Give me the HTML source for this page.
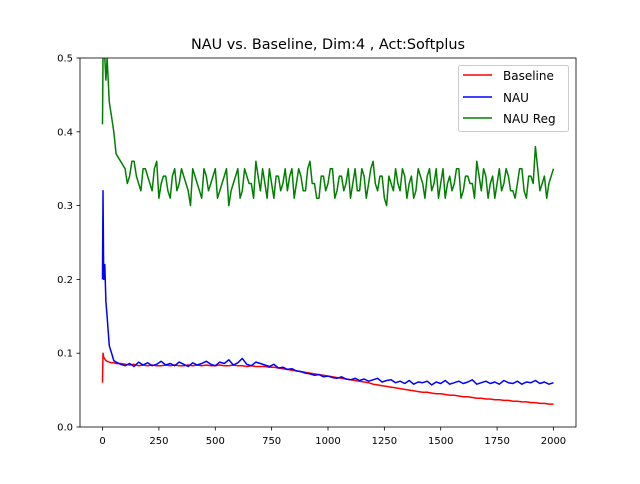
<!DOCTYPE html>
<html><head><meta charset="utf-8"><style>
body{margin:0;background:#fff;font-family:"DejaVu Sans","Liberation Sans",sans-serif}
svg text{font-family:"DejaVu Sans","Liberation Sans",sans-serif}
</style></head><body>
<svg id="chart" width="640" height="480" xmlns="http://www.w3.org/2000/svg">
<rect width="640" height="480" fill="#fff"/>
<text x="328" y="49" text-anchor="middle" font-size="14.4">NAU vs. Baseline, Dim:4 , Act:Softplus</text>
<g id="plot"></g>
<rect x="80" y="58" width="496" height="369" fill="none" stroke="#000" stroke-width="0.8"/>
<g id="axes"></g>
<g>
<rect x="458.5" y="65.5" width="110" height="66" rx="2" fill="#fff" fill-opacity="0.8" stroke="#ccc"/>
<line x1="463" y1="75" x2="492" y2="75" stroke="red" stroke-width="1.5"/>
<text x="503" y="80" font-size="12">Baseline</text>
<line x1="463" y1="97" x2="492" y2="97" stroke="blue" stroke-width="1.5"/>
<text x="503" y="102" font-size="12">NAU</text>
<line x1="463" y1="118" x2="492" y2="118" stroke="green" stroke-width="1.5"/>
<text x="503" y="123" font-size="12">NAU Reg</text>
</g>
</svg>
<script>
const earlySteps=[0,2,5,10,15,20,30,40,50,60,80];
const xTicks=[0,250,500,750,1000,1250,1500,1750,2000];
const yTicks=[0.0,0.1,0.2,0.3,0.4,0.5];
const baselineEarly=[0.06,0.10,0.095,0.092,0.09,0.089,0.088,0.087,0.087,0.086,0.086];
const nauEarly=[0.2,0.32,0.2,0.22,0.17,0.15,0.11,0.1,0.09,0.088,0.085];
const regEarly=[0.41,0.5,0.52,0.5,0.47,0.5,0.44,0.42,0.40,0.37,0.36];
const baselineLate=[0.085,0.084,0.085,0.083,0.084,0.083,0.084,0.083,0.083,0.084,0.083,0.084,0.083,0.083,0.084,0.083,0.084,0.083,0.084,0.083,0.083,0.084,0.083,0.083,0.084,0.083,0.083,0.082,0.083,0.082,0.082,
0.082,0.081,0.081,0.080,0.079,0.078,0.077,0.076,0.075,0.074,0.073,0.072,0.071,0.070,0.069,0.068,0.067,0.066,0.065,0.064,0.063,0.062,0.061,0.060,0.058,0.057,0.056,0.055,0.054,0.053,0.052,0.051,0.050,0.049,0.048,0.047,0.047,0.046,0.045,0.045,0.044,0.043,0.043,0.042,0.041,0.041,0.040,0.039,0.039,0.038,0.038,0.037,0.037,0.036,0.036,0.035,0.035,0.034,0.034,0.033,0.033,0.032,0.032,0.031,0.031];
const nauLate=[0.083,0.086,0.082,0.088,0.084,0.087,0.083,0.085,0.089,0.084,0.086,0.083,0.088,0.085,0.082,0.087,0.084,0.086,0.089,0.085,0.083,0.088,0.086,0.091,0.084,0.087,0.093,0.085,0.083,0.088,0.086,
0.084,0.082,0.085,0.080,0.081,0.078,0.079,0.076,0.075,0.073,0.072,0.07,0.071,0.068,0.069,0.067,0.066,0.068,0.065,0.064,0.066,0.063,0.065,0.062,0.064,0.066,0.061,0.063,0.064,0.060,
0.062,0.059,0.063,0.058,0.061,0.060,0.062,0.057,0.061,0.059,0.063,0.058,0.060,0.062,0.059,0.061,0.064,0.058,0.060,0.062,0.059,0.061,0.058,0.063,0.060,0.059,0.062,0.058,0.061,0.060,0.063,0.059,0.061,0.058,0.060];
const regLate=[0.35,0.34,0.36,0.33,0.35,0.34,0.32,0.36,0.33,0.34,0.31,0.35,0.33,0.34,0.32,0.35,0.33,0.31,0.34,0.33,0.35,0.32,0.34,0.30,0.33,0.35,0.32,0.34,0.33,0.36,0.32,0.33,0.35,0.31,0.34,0.33,0.32,0.35,0.33,0.34,0.32,0.36,0.33,0.31,0.34,0.33,0.35,0.32,0.34,0.33,0.31,0.35,0.32,0.34,0.33,0.36,0.32,0.34,0.30,0.33,0.35,0.32,0.34,0.33,0.31,0.35,0.33,0.34,0.32,0.35,0.33,0.31,0.34,0.33,0.35,0.32,0.34,0.33,0.36,0.32,0.34,0.33,0.31,0.35,0.33,0.34,0.32,0.33,0.35,0.31,0.34,0.38,0.32,0.34,0.33,0.35];
const regMid=[0.33,0.36,0.34,0.32,0.35,0.33,0.35,0.31,0.34,0.32,0.34,0.32,0.35,0.33,0.30,0.34,0.32,0.35,0.32,0.34,0.31,0.33,0.35,0.32,0.34,0.31,0.35,0.33,0.31,0.34,0.35,0.31,0.33,0.34,0.32,0.35,0.34,0.31,0.35,0.32,0.35,0.33,0.31,0.34,0.32,0.35,0.31,0.34,0.32,0.35,0.33,0.32,0.35,0.31,0.35,0.33,0.34,0.31,0.34,0.32,0.33,0.35,0.31,0.34,0.32,0.34,0.31,0.35,0.33,0.31,0.35,0.33,0.32,0.35,0.31,0.34,0.33,0.31,0.34,0.35,0.31,0.34,0.33,0.32,0.35,0.32,0.31,0.35,0.32,0.34,0.33,0.35,0.33,0.31,0.34];
const NS="http://www.w3.org/2000/svg";
const X0=80,X1=576,Y0=427,Y1=58,XMIN=-100,XMAX=2100,YMIN=0,YMAX=0.5;
const xs=v=>X0+(v-XMIN)/(XMAX-XMIN)*(X1-X0);
const ys=v=>Y0-(v-YMIN)/(YMAX-YMIN)*(Y0-Y1);
const lateSteps=baselineLate.map((_,i)=>100+20*i);
const steps=earlySteps.concat(lateSteps);
// merge green series at 10-step resolution
const regSteps=earlySteps.slice(),regVals=regEarly.slice();
regLate.forEach((v,i)=>{regSteps.push(100+20*i);regVals.push(v);if(i<regMid.length){regSteps.push(110+20*i);regVals.push(regMid[i]);}});
const plot=document.getElementById('plot'),axes=document.getElementById('axes');
function mk(t,a,p){const e=document.createElementNS(NS,t);for(const k in a)e.setAttribute(k,a[k]);p.appendChild(e);return e;}
const clip=mk('clipPath',{id:'c'},plot);mk('rect',{x:X0,y:Y1,width:X1-X0,height:Y0-Y1},clip);
function series(st,vals,color,name){
 const d=vals.map((v,i)=>(i?'L':'M')+xs(st[i]).toFixed(1)+','+ys(v).toFixed(1)).join('');
 const p=mk('path',{d:d,fill:'none',stroke:color,'stroke-width':1.5,'stroke-linejoin':'round','clip-path':'url(#c)'},plot);
 
 
}
series(steps,baselineEarly.concat(baselineLate),'red','baseline-line');
series(steps,nauEarly.concat(nauLate),'blue','nau-line');
series(regSteps,regVals,'green','nau-reg-line');
xTicks.forEach(t=>{const x=xs(t);
 mk('line',{x1:x,x2:x,y1:Y0,y2:Y0+3.5,stroke:'#000','stroke-width':0.8},axes);
 const tx=mk('text',{x:x,y:Y0+17,'text-anchor':'middle','font-size':10},axes);tx.textContent=t;
 
 
});
yTicks.forEach(t=>{const y=ys(t);
 mk('line',{x1:X0,x2:X0-3.5,y1:y,y2:y,stroke:'#000','stroke-width':0.8},axes);
 const tx=mk('text',{x:X0-7,y:y+3.5,'text-anchor':'end','font-size':10},axes);tx.textContent=t.toFixed(1);
 
 
});
</script>
</body></html>
